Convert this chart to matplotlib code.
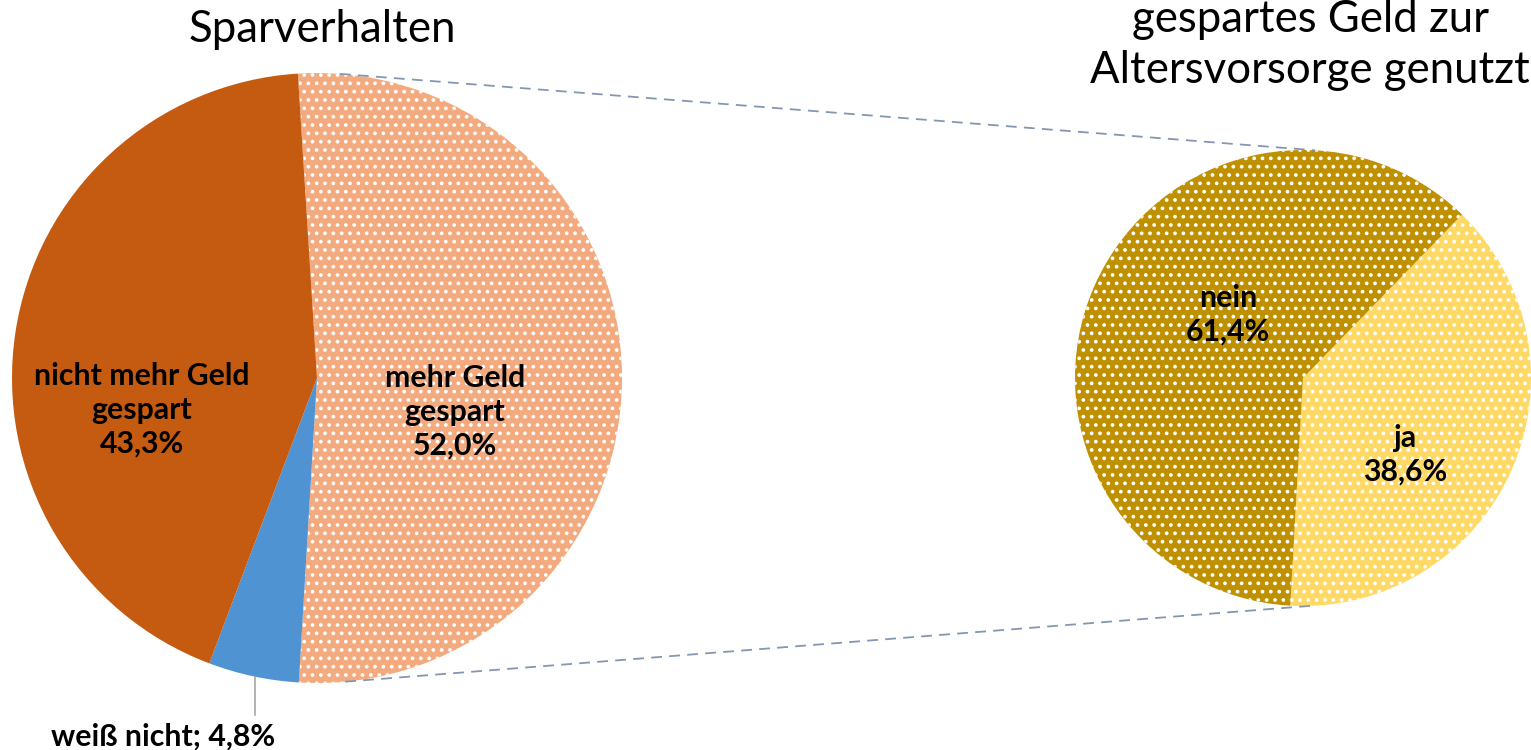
import numpy as np
import matplotlib
matplotlib.use("Agg")
import matplotlib.pyplot as plt

plt.rcParams['font.family'] = ['Lato', 'DejaVu Sans']
plt.rcParams['hatch.linewidth'] = 1.5

# data
left_labels = ["mehr Geld\ngespart", "weiß nicht", "nicht mehr Geld\ngespart"]
left_values = [52.0, 4.8, 43.3]
left_colors = ["#F2AA7E", "#4F93D3", "#C55A11"]
left_hatch = ["..", None, None]

right_labels = ["ja", "nein"]
right_values = [38.6, 61.4]
right_colors = ["#FFD966", "#BF9000"]
right_hatch = ["..", ".."]

def pct(v):
    return f"{v:.1f}%".replace(".", ",")

W, H = 1531, 750
fig = plt.figure(figsize=(W / 100, H / 100), dpi=100)
ax = fig.add_axes([0, 0, 1, 1])

# left pie
lc, lr = (317, 372), 305
lstart = 90 + (left_values[0] / 100 * 360 - 180) / 2
wl, _ = ax.pie(left_values, colors=left_colors, startangle=lstart, counterclock=False,
               center=lc, radius=lr, frame=True, wedgeprops=dict(linewidth=0))
for w, h in zip(wl, left_hatch):
    if h:
        w.set_hatch(h)
        w.set_edgecolor("white")
        w.set_linewidth(0)

# right pie
rc, rr = (1303, 372), 228
rstart = -93.2 + right_values[0] / 100 * 360
wr, _ = ax.pie(right_values, colors=right_colors, startangle=rstart, counterclock=False,
               center=rc, radius=rr, frame=True, wedgeprops=dict(linewidth=0))
for w, h in zip(wr, right_hatch):
    if h:
        w.set_hatch(h)
        w.set_edgecolor("white")
        w.set_linewidth(0)

ax.set_xlim(0, W)
ax.set_ylim(0, H)
ax.set_aspect('equal')
ax.axis('off')

# connector lines
def pt(c, r, a):
    t = np.deg2rad(a)
    return c[0] + r * np.cos(t), c[1] + r * np.sin(t)

for la, ra in [(85.7, 87.0), (-84.7, -88.2)]:
    x1, y1 = pt(lc, lr, la)
    x2, y2 = pt(rc, rr, ra)
    ax.plot([x1, x2], [y1, y2], color="#8497B0", lw=1.3, ls=(0, (6, 4)))

# titles
ax.text(322, H - 30, "Sparverhalten", ha='center', va='center', fontsize=31.5, color='black')
ax.text(1310, H - 45, "gespartes Geld zur\nAltersvorsorge genutzt", ha='center', va='center',
        fontsize=31.5, color='black', linespacing=1.3)

# data labels
lab = dict(ha='center', va='center', fontsize=21.8, fontweight='bold', color='black', linespacing=1.25)
ax.text(455, H - 412, f"{left_labels[0]}\n{pct(left_values[0])}", **lab)
ax.text(142, H - 410, f"{left_labels[2]}\n{pct(left_values[2])}", **lab)
ax.text(163, H - 737, f"{left_labels[1]}; {pct(left_values[1])}", **lab)
bx, by = pt(lc, lr, -101.7)
ax.plot([bx, bx], [by, H - 715], color="#A6A6A6", lw=1.2)
ax.text(1228, H - 315, f"{right_labels[1]}\n{pct(right_values[1])}", **lab)
ax.text(1405, H - 455, f"{right_labels[0]}\n{pct(right_values[0])}", **lab)

fig.savefig("out.png", dpi=100)
